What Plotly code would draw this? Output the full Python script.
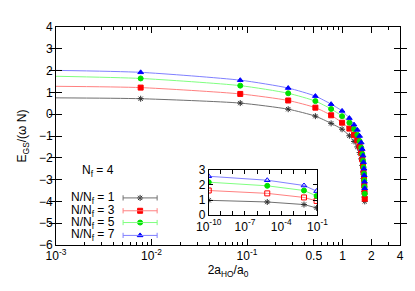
import plotly.graph_objects as go

# ---------------- data ----------------
x_start = 0.001
x_pts = [0.0077, 0.085, 0.27, 0.52, 0.76, 0.99, 1.18, 1.32, 1.43, 1.51,
         1.57, 1.61, 1.64, 1.66, 1.68, 1.69, 1.70, 1.71]

y0_n1 = 0.75
y0_n3 = 1.28
y0_n5 = 1.74
y0_n7 = 2.01

y_n1 = [0.71, 0.51, 0.23, -0.09, -0.42, -0.69, -0.99, -1.25, -1.50, -1.76,
        -2.05, -2.35, -2.65, -2.95, -3.25, -3.55, -3.80, -4.00]
y_n3 = [1.22, 0.93, 0.63, 0.30, -0.05, -0.39, -0.66, -0.95, -1.20, -1.48,
        -1.78, -2.08, -2.38, -2.68, -2.98, -3.28, -3.58, -3.88]
y_n5 = [1.64, 1.31, 0.96, 0.60, 0.24, -0.09, -0.39, -0.68, -0.95, -1.23,
        -1.53, -1.83, -2.13, -2.43, -2.73, -3.03, -3.33, -3.65]
y_n7 = [1.92, 1.56, 1.20, 0.83, 0.46, 0.15, -0.18, -0.48, -0.72, -1.00,
        -1.30, -1.60, -1.90, -2.20, -2.50, -2.80, -3.10, -3.40]

inset_x = [1e-10, 7e-6, 0.0077, 0.085]
inset_n1 = [0.98, 0.87, 0.70, 0.48]
inset_n3 = [1.63, 1.44, 1.17, 0.94]
inset_n5 = [2.18, 1.94, 1.63, 1.27]
inset_n7 = [2.57, 2.31, 1.96, 1.59]

labels = ["N/N<sub>f</sub> = 1", "N/N<sub>f</sub> = 3", "N/N<sub>f</sub> = 5", "N/N<sub>f</sub> = 7"]

x_tickvals = [1e-3, 1e-2, 1e-1, 0.5, 1, 2, 4]
x_ticktext = ["10<sup>-3</sup>", "10<sup>-2</sup>", "10<sup>-1</sup>", "0.5", "1", "2", "4"]
x_minor = [m * 10.0 ** e for e in (-3, -2, -1, 0) for m in range(2, 10) if m * 10.0 ** e <= 4]
y_ticks = list(range(-6, 5))

inset_tickvals = [10.0 ** e for e in range(-10, 0)]
inset_ticktext = ["10<sup>-10</sup>", "", "", "10<sup>-7</sup>", "", "", "10<sup>-4</sup>", "", "", "10<sup>-1</sup>"]

# ---------------- styles ----------------
FONT = "Liberation Sans, Arial, Helvetica, sans-serif"
FS = 12
line_cols = ["#707070", "#ff8080", "#80ff80", "#8080ff"]
mk_cols = ["#303030", "#ff0000", "#00e000", "#0000ff"]
mk_syms = ["asterisk-open", "square", "circle", "triangle-up"]
mk_sizes = [5, 5, 5, 5]
in_syms = ["asterisk-open", "square-open", "circle", "triangle-up-open"]

fig = go.Figure()

series = [(y0_n1, y_n1), (y0_n3, y_n3), (y0_n5, y_n5), (y0_n7, y_n7)]
for i, (y0, ys) in enumerate(series):
    fig.add_trace(go.Scatter(x=[x_start] + x_pts, y=[y0] + ys, mode="lines",
                             line=dict(color=line_cols[i], width=1, shape="spline", smoothing=0.6),
                             showlegend=False, hoverinfo="skip"))
for i, (y0, ys) in enumerate(series):
    fig.add_trace(go.Scatter(x=x_pts, y=ys, mode="markers",
                             marker=dict(symbol=mk_syms[i], size=mk_sizes[i], color=mk_cols[i],
                                         line=dict(color=mk_cols[i], width=1)),
                             showlegend=False))

# inset
for i, ys in enumerate([inset_n1, inset_n3, inset_n5, inset_n7]):
    fig.add_trace(go.Scatter(x=inset_x, y=ys, mode="lines+markers", xaxis="x2", yaxis="y2",
                             line=dict(color=line_cols[i], width=1),
                             marker=dict(symbol=in_syms[i], size=5, color=mk_cols[i],
                                         line=dict(color=mk_cols[i], width=1)),
                             showlegend=False))

# minor tick helper trace (invisible) on overlay axis
fig.add_trace(go.Scatter(x=[1e-3, 4], y=[0, 0], xaxis="x4", yaxis="y", mode="markers",
                         marker=dict(size=0.1, opacity=0), showlegend=False, hoverinfo="skip"))

# custom legend (gnuplot style, text left of sample)
leg_y = [0.216, 0.157, 0.103, 0.044]
lx0, lx1, lxc = 0.195, 0.294, 0.2445
for i in range(4):
    fig.add_shape(type="line", xref="paper", yref="paper", x0=lx0, x1=lx1, y0=leg_y[i], y1=leg_y[i],
                  line=dict(color=line_cols[i], width=1))
    for xx in (lx0, lx1):
        fig.add_shape(type="line", xref="paper", yref="paper", x0=xx, x1=xx,
                      y0=leg_y[i] - 0.012, y1=leg_y[i] + 0.012, line=dict(color=line_cols[i], width=1))
    fig.add_annotation(xref="paper", yref="paper", x=0.176, y=leg_y[i], text=labels[i],
                       showarrow=False, xanchor="right", yanchor="middle",
                       font=dict(family=FONT, size=FS, color="black"))
fig.add_trace(go.Scatter(x=[lxc] * 4, y=leg_y, xaxis="x3", yaxis="y3", mode="markers",
                         marker=dict(symbol=mk_syms, size=5, color=mk_cols,
                                     line=dict(color=mk_cols, width=1)),
                         showlegend=False, hoverinfo="skip"))

fig.add_annotation(xref="paper", yref="paper", x=0.122, y=0.339, text="N<sub>f</sub> = 4",
                   showarrow=False, xanchor="center", yanchor="middle",
                   font=dict(family=FONT, size=FS, color="black"))

axis_common = dict(showline=True, linecolor="black", linewidth=1, mirror="allticks",
                   ticks="inside", tickcolor="black", showgrid=False, zeroline=False,
                   tickfont=dict(family=FONT, size=FS, color="black"))

fig.update_layout(
    width=415, height=291,
    margin=dict(l=48, r=23, t=16, b=54),
    paper_bgcolor="white", plot_bgcolor="white",
    font=dict(family=FONT, size=FS, color="black"),
    xaxis=dict(type="log", range=[-3, 0.60206], tickmode="array", tickvals=x_tickvals,
               ticktext=x_ticktext, ticklen=6,
               title=dict(text="2a<sub>HO</sub>/a<sub>0</sub>", font=dict(family=FONT, size=FS), standoff=3),
               **axis_common),
    yaxis=dict(range=[-6, 4], tickmode="array", tickvals=y_ticks, ticklen=6,
               title=dict(text="E<sub>GS</sub>/(ω N)", font=dict(family=FONT, size=FS), standoff=9),
               **axis_common),
    xaxis4=dict(type="log", range=[-3, 0.60206], overlaying="x", anchor="y", tickmode="array",
                tickvals=x_minor, ticktext=[""] * len(x_minor), ticks="inside", ticklen=3,
                tickcolor="black", mirror="allticks", showline=False, showgrid=False,
                zeroline=False, showticklabels=False),
    xaxis2=dict(type="log", domain=[0.444, 0.760], range=[-10, -1], anchor="y2",
                tickmode="array", tickvals=inset_tickvals, ticktext=inset_ticktext, ticklen=4,
                **axis_common),
    yaxis2=dict(domain=[0.137, 0.345], range=[0, 3], anchor="x2", tickmode="array",
                tickvals=[0, 1, 2, 3], ticklen=4, **axis_common),
    xaxis3=dict(domain=[0, 1], range=[0, 1], anchor="y3", overlaying="x", visible=False),
    yaxis3=dict(domain=[0, 1], range=[0, 1], anchor="x3", overlaying="y", visible=False),
)

fig.write_html("out.html")
